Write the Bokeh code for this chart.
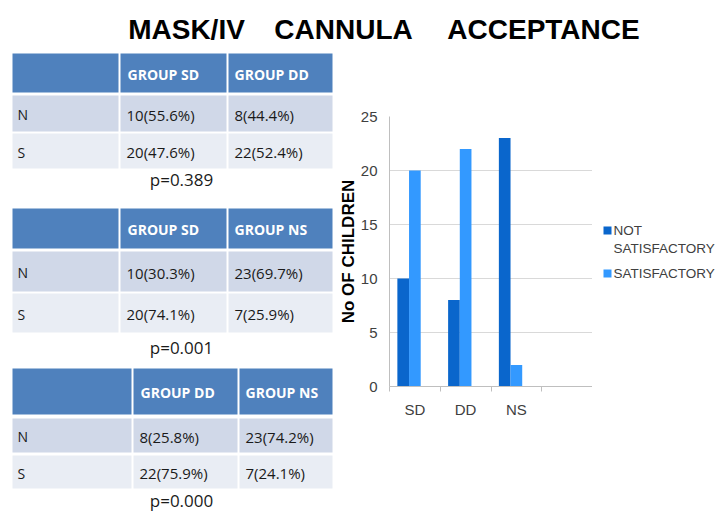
from bokeh.plotting import figure
from bokeh.models import Range1d, FixedTicker, ColumnDataSource
from bokeh.layouts import column, row
from bokeh.embed import file_html
from bokeh.resources import INLINE
from bokeh.core.properties import value
from bokeh.transform import dodge

# ---------------- data ----------------
TITLE_WORDS = ["MASK/IV", "CANNULA", "ACCEPTANCE"]

ROW_LABELS = ["N", "S"]

T1_HEADER = ["GROUP SD", "GROUP DD"]
T1_N = ["10(55.6%)", "8(44.4%)"]
T1_S = ["20(47.6%)", "22(52.4%)"]
T1_P = "p=0.389"

T2_HEADER = ["GROUP SD", "GROUP NS"]
T2_N = ["10(30.3%)", "23(69.7%)"]
T2_S = ["20(74.1%)", "7(25.9%)"]
T2_P = "p=0.001"

T3_HEADER = ["GROUP DD", "GROUP NS"]
T3_N = ["8(25.8%)", "23(74.2%)"]
T3_S = ["22(75.9%)", "7(24.1%)"]
T3_P = "p=0.000"

CATEGORIES = ["SD", "DD", "NS"]
N_SLOTS = 4  # chart has an empty fourth category slot
NOT_SATISFACTORY = [10, 8, 23]
SATISFACTORY = [20, 22, 2]
SERIES = ["NOT SATISFACTORY", "SATISFACTORY"]
Y_TICKS = [0, 5, 10, 15, 20, 25]
Y_LABEL = "No OF CHILDREN"

# ---------------- styles ----------------
HEADER_BG = "#4F81BD"
ROW_BG = ["#D0D8E8", "#E9EDF4"]
DARK = "#0A66CC"
LIGHT = "#3399FF"
SERIES_COLORS = [DARK, LIGHT]
TXT = "#1A1A1A"
FONT = value("Open Sans")
AFONT = value("Liberation Sans")
AFONT_S = "Liberation Sans"

W = 716
TOP = 50      # page y where body starts
BOTTOM = 511  # page y where body ends
X_TAB = 335
X_LEG = 592


def blank(width, height, xr, yr):
    f = figure(width=width, height=height, x_range=Range1d(*xr), y_range=Range1d(*yr),
               output_backend="svg", toolbar_location=None, min_border=0,
               x_axis_type=None, y_axis_type=None, frame_align=False)
    f.grid.visible = False
    f.outline_line_color = None
    return f


# ---------------- title ----------------
title_fig = blank(W, TOP, (0, W), (TOP, 0))
title_fig.text(x=[186, 343, 543], y=[29, 29, 29], text=TITLE_WORDS,
               text_font=AFONT, text_font_style="bold", text_font_size="28px",
               text_align="center", text_baseline="middle", text_color="#000000")

# ---------------- tables ----------------
tables = [
    (T1_HEADER, [T1_N, T1_S], T1_P),
    (T2_HEADER, [T2_N, T2_S], T2_P),
    (T3_HEADER, [T3_N, T3_S], T3_P),
]
geoms = [
    ([(12, 118), (120, 226), (228, 332)], [(53, 92), (95, 131), (133, 168)], 179),
    ([(12, 118), (120, 226), (228, 332)], [(208, 248), (251, 291), (293, 332)], 347),
    ([(12, 131), (133, 237), (239, 332)], [(368, 414), (418, 452), (455, 488)], 500),
]

tab_fig = blank(X_TAB, BOTTOM - TOP, (0, X_TAB), (BOTTOM, TOP))

for (header, body, ptxt), (cols, rows, py) in zip(tables, geoms):
    L, R, T, B, C = [], [], [], [], []
    for ri, (y0, y1) in enumerate(rows):
        for (x0, x1) in cols:
            L.append(x0); R.append(x1); T.append(y0); B.append(y1)
            C.append(HEADER_BG if ri == 0 else ROW_BG[ri - 1])
    tab_fig.quad(left=L, right=R, top=T, bottom=B, fill_color=C, line_color=None)
    hy = (rows[0][0] + rows[0][1]) / 2 + 1
    tab_fig.text(x=[cols[1][0] + 7, cols[2][0] + 6], y=[hy, hy], text=header,
                 text_font=FONT, text_font_style="bold", text_font_size="14px",
                 text_color="white", text_baseline="middle", text_align="left")
    for ri, vals in enumerate(body):
        y0, y1 = rows[ri + 1]
        ym = (y0 + y1) / 2 + 1
        tab_fig.text(x=[cols[0][0] + 5], y=[ym], text=[ROW_LABELS[ri]],
                     text_font=FONT, text_font_size="14px", text_color=TXT,
                     text_baseline="middle", text_align="left")
        tab_fig.text(x=[cols[1][0] + 6, cols[2][0] + 6], y=[ym, ym], text=vals,
                     text_font=FONT, text_font_size="15px", text_color=TXT,
                     text_baseline="middle", text_align="left")
    tab_fig.text(x=[181], y=[py], text=[ptxt], text_font=FONT, text_font_size="17px",
                 text_color=TXT, text_baseline="middle", text_align="center")

# ---------------- bar chart ----------------
positions = [i + 0.5 for i in range(len(CATEGORIES))]
src = ColumnDataSource(dict(x=positions, ns=NOT_SATISFACTORY, s=SATISFACTORY))

chart = figure(width=X_LEG - X_TAB, height=BOTTOM - TOP, x_range=Range1d(0, N_SLOTS),
               y_range=Range1d(0, 25), output_backend="svg", toolbar_location=None,
               min_border_left=389 - X_TAB, min_border_right=0, min_border_top=66,
               min_border_bottom=125, frame_align=False)
chart.outline_line_color = None
chart.xgrid.visible = False
chart.ygrid.grid_line_color = "#D9D9D9"
chart.ygrid.ticker = FixedTicker(ticks=Y_TICKS)

bw = 0.23
chart.vbar(x=dodge("x", -bw, range=chart.x_range), top="ns", width=bw, source=src,
           fill_color=DARK, line_color=None)
chart.vbar(x=dodge("x", 0.0, range=chart.x_range), top="s", width=bw, source=src,
           fill_color=LIGHT, line_color=None)

xa = chart.xaxis[0]
xa.ticker = FixedTicker(ticks=positions, minor_ticks=list(range(N_SLOTS + 1)))
xa.major_label_overrides = {p: c for p, c in zip(positions, CATEGORIES)}
xa.major_tick_out = 0
xa.major_tick_in = 0
xa.minor_tick_out = 5
xa.minor_tick_in = 0
xa.minor_tick_line_color = "#BFBFBF"
xa.axis_line_color = "#BFBFBF"
xa.major_label_standoff = 9
xa.major_label_text_font = AFONT_S
xa.major_label_text_font_size = "15px"
xa.major_label_text_color = "#404040"

ya = chart.yaxis[0]
ya.ticker = FixedTicker(ticks=Y_TICKS)
ya.major_tick_out = 0
ya.major_tick_in = 0
ya.minor_tick_out = 0
ya.minor_tick_in = 0
ya.axis_line_color = "#BFBFBF"
ya.major_label_standoff = 12
ya.major_label_text_font = AFONT_S
ya.major_label_text_font_size = "15px"
ya.major_label_text_color = "#404040"
ya.axis_label = Y_LABEL
ya.axis_label_text_font = AFONT_S
ya.axis_label_text_font_style = "bold"
ya.axis_label_text_font_size = "17px"
ya.axis_label_text_color = "#000000"
ya.axis_label_standoff = 0

# ---------------- legend ----------------
leg = blank(W - X_LEG, BOTTOM - TOP, (X_LEG, W), (BOTTOM, TOP))
labels = [s.replace(" ", "\n", 1) for s in SERIES]
leg_y = [230, 273]
leg.rect(x=[607, 607], y=leg_y, width=8, height=8, fill_color=SERIES_COLORS, line_color=None)
leg.text(x=[613, 613], y=[y - 8 for y in leg_y], text=labels, text_font=AFONT,
         text_font_size="13.5px", text_color="#404040", text_align="left",
         text_baseline="top", text_line_height=1.2)

layout = column(title_fig, row(tab_fig, chart, leg, spacing=0), spacing=0)
open("out.html", "w").write(file_html(layout, INLINE))
